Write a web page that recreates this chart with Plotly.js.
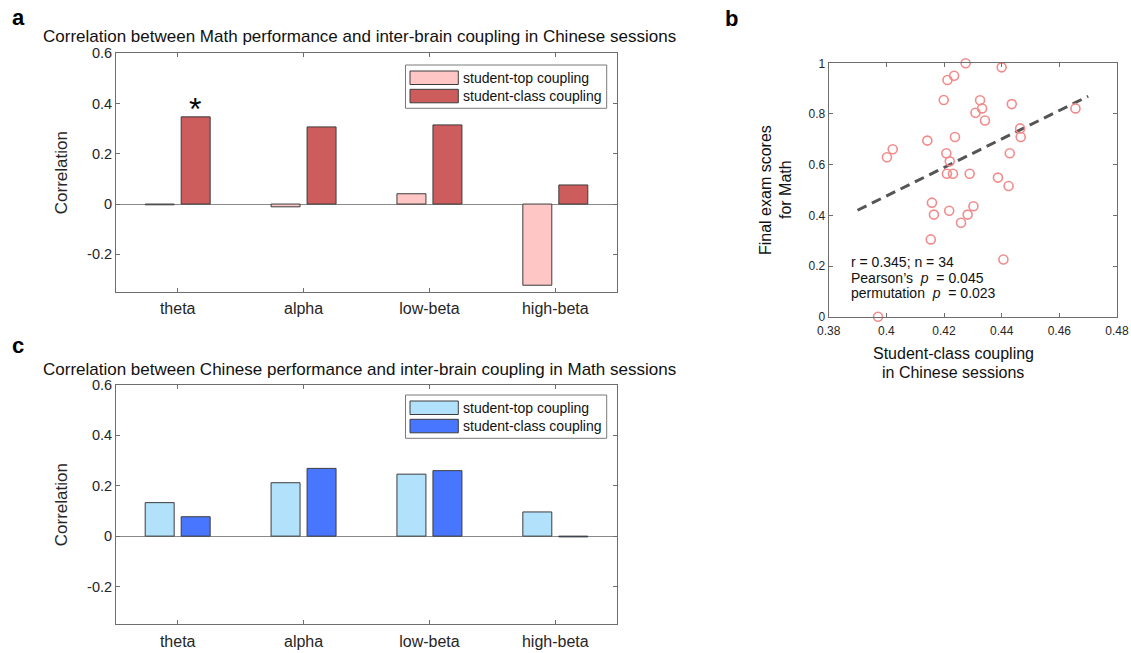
<!DOCTYPE html>
<html><head><meta charset="utf-8">
<script src="https://cdn.plot.ly/plotly-3.0.1.min.js"></script>
<style>html,body{margin:0;padding:0;background:#fff}#chart{width:1131px;height:653px}</style>
</head><body><div id="chart"></div>
<script>
// ---------- data ----------
const bands = ['theta', 'alpha', 'low-beta', 'high-beta'];
const mathTop = [-0.003, -0.011, 0.041, -0.323];
const mathClass = [0.347, 0.307, 0.315, 0.076];
const chnTop = [0.133, 0.212, 0.246, 0.096];
const chnClass = [0.077, 0.269, 0.260, -0.003];
const corrTicks = [-0.2, 0, 0.2, 0.4, 0.6];
const corrTickText = ['-0.2', '0', '0.2', '0.4', '0.6'];
const seriesNames = ['student-top coupling', 'student-class coupling'];

const couplingX = [0.4275, 0.4400, 0.4212, 0.4235, 0.4199, 0.4325, 0.4435, 0.4309, 0.4332, 0.4342,
                   0.4656, 0.4464, 0.4466, 0.4142, 0.4238, 0.4022, 0.4002, 0.4208, 0.4220, 0.4428,
                   0.4210, 0.4231, 0.4289, 0.4387, 0.4424, 0.4158, 0.4165, 0.4218, 0.4282, 0.4302,
                   0.4259, 0.4154, 0.4406, 0.3971];
const examY = [1.000, 0.984, 0.934, 0.951, 0.855, 0.854, 0.839, 0.805, 0.822, 0.774,
               0.822, 0.743, 0.709, 0.695, 0.709, 0.661, 0.629, 0.645, 0.613, 0.645,
               0.564, 0.564, 0.564, 0.549, 0.516, 0.450, 0.403, 0.418, 0.403, 0.436,
               0.371, 0.305, 0.226, 0.000];
const fitX = [0.39, 0.47];
const fitY = [0.42, 0.87];
const scatterXTicks = [0.38, 0.40, 0.42, 0.44, 0.46, 0.48];
const scatterXTickText = ['0.38', '0.4', '0.42', '0.44', '0.46', '0.48'];
const scatterYTicks = [0, 0.2, 0.4, 0.6, 0.8, 1];
const scatterYTickText = ['0', '0.2', '0.4', '0.6', '0.8', '1'];
const statsLines = ['r = 0.345; n = 34', 'Pearson\u2019s  <i>p</i>  = 0.045', 'permutation  <i>p</i>  = 0.023'];
const statsY = [0.217, 0.154, 0.092];

// ---------- style ----------
const W = 1131, H = 653;
const px = x => x / W, py = y => 1 - y / H;
const C = {pink: '#FFC6C6', red: '#CD5C5C', lblue: '#B2E1FB', blue: '#4876FF',
           edge: '#3c3c3c', axis: '#6e6e6e', text: '#262626', pt: '#F28C8C'};
const SANS = '"Liberation Sans", Arial, sans-serif';

function barTrace(x, y, color, xa, ya, name) {
  return {type: 'bar', x: x, y: y, name: name, xaxis: xa, yaxis: ya,
          marker: {color: color, line: {color: C.edge, width: 1}}, hoverinfo: 'x+y'};
}
const data = [
  barTrace(bands, mathTop, C.pink, 'x', 'y', seriesNames[0]),
  barTrace(bands, mathClass, C.red, 'x', 'y', seriesNames[1]),
  barTrace(bands, chnTop, C.lblue, 'x3', 'y3', seriesNames[0]),
  barTrace(bands, chnClass, C.blue, 'x3', 'y3', seriesNames[1]),
  {type: 'scatter', mode: 'lines', x: fitX, y: fitY, xaxis: 'x2', yaxis: 'y2',
   line: {color: '#555555', width: 3, dash: '10px,6px'}, hoverinfo: 'skip'},
  {type: 'scatter', mode: 'markers', x: couplingX, y: examY, xaxis: 'x2', yaxis: 'y2', cliponaxis: false,
   marker: {symbol: 'circle-open', size: 9, color: C.pt, line: {color: C.pt, width: 1.6}}}
];

function catAxis(dom, anchor) {
  return {domain: dom, anchor: anchor, type: 'category', range: [-0.49, 3.49],
          ticks: 'inside', ticklen: 4, tickcolor: C.axis, showline: true, mirror: 'ticks',
          linecolor: C.axis, linewidth: 1, showgrid: false, ticklabelstandoff: 2,
          tickfont: {family: SANS, size: 16, color: C.text}};
}
function corrAxis(dom, anchor) {
  return {domain: dom, anchor: anchor, range: [-0.35, 0.6], tickvals: corrTicks, ticktext: corrTickText,
          ticks: 'inside', ticklen: 4, tickcolor: C.axis, showline: true, mirror: 'ticks',
          linecolor: C.axis, linewidth: 1, showgrid: false, zeroline: true,
          zerolinecolor: '#8a8a8a', zerolinewidth: 1,
          tickfont: {family: SANS, size: 14.5, color: C.text},
          title: {text: 'Correlation', font: {family: SANS, size: 17, color: C.text}, standoff: 15}};
}

const layout = {
  width: W, height: H, margin: {l: 0, r: 0, t: 0, b: 0}, paper_bgcolor: '#fff', plot_bgcolor: '#fff',
  showlegend: false, barmode: 'group', bargap: 0.428, bargroupgap: 0.195,
  font: {family: SANS, color: C.text},
  xaxis: catAxis([px(116), px(617)], 'y'),
  yaxis: corrAxis([py(292), py(53.3)], 'x'),
  xaxis3: catAxis([px(116), px(617)], 'y3'),
  yaxis3: corrAxis([py(624.3), py(385)], 'x3'),
  xaxis2: {domain: [px(828.7), px(1117)], anchor: 'y2', range: [0.38, 0.48], tickvals: scatterXTicks,
           ticktext: scatterXTickText, ticks: 'inside', ticklen: 4, tickcolor: C.axis, ticklabelstandoff: 3,
           showline: true, mirror: 'ticks', linecolor: C.axis, showgrid: false, zeroline: false,
           tickfont: {family: SANS, size: 12, color: C.text}},
  yaxis2: {domain: [py(316.7), py(63.3)], anchor: 'x2', range: [0, 1], tickvals: scatterYTicks,
           ticktext: scatterYTickText, ticks: 'inside', ticklen: 4, tickcolor: C.axis,
           showline: true, mirror: 'ticks', linecolor: C.axis, showgrid: false, zeroline: false,
           tickfont: {family: SANS, size: 12, color: C.text}},
  shapes: [], annotations: []
};

const A = layout.annotations, S = layout.shapes;
function note(text, x, y, opts) {
  A.push(Object.assign({text: text, x: px(x), y: py(y), xref: 'paper', yref: 'paper', showarrow: false,
    xanchor: 'center', yanchor: 'middle', font: {family: SANS, size: 14, color: C.text}}, opts || {}));
}
// panel letters
note('<b>a</b>', 18, 17, {font: {family: SANS, size: 22, color: '#000'}});
note('<b>b</b>', 731, 18, {font: {family: SANS, size: 22, color: '#000'}});
note('<b>c</b>', 18, 345, {font: {family: SANS, size: 22, color: '#000'}});
// panel titles
note('Correlation between Math performance and inter-brain coupling in Chinese sessions', 359, 37,
     {font: {family: SANS, size: 17, color: '#111'}});
note('Correlation between Chinese performance and inter-brain coupling in Math sessions', 359, 369,
     {font: {family: SANS, size: 17, color: '#111'}});
// significance star
A.push({text: '*', x: bands[0], y: 0.38, xref: 'x', yref: 'y', xshift: 17, showarrow: false,
        font: {family: SANS, size: 32, color: '#000'}, yanchor: 'middle'});
// legends
function legend(top, colors) {
  S.push({type: 'rect', xref: 'paper', yref: 'paper', x0: px(405.5), x1: px(606.7), y0: py(top), y1: py(top + 43.3),
          line: {color: '#7a7a7a', width: 1}, fillcolor: '#fff'});
  [0, 1].forEach(i => {
    const t = top + 6 + i * 18.3;
    S.push({type: 'rect', xref: 'paper', yref: 'paper', x0: px(410), x1: px(458.3), y0: py(t), y1: py(t + 13.5),
            line: {color: C.edge, width: 1}, fillcolor: colors[i]});
    note(seriesNames[i], 460.5, t + 6.8, {xanchor: 'left', font: {family: SANS, size: 14, color: '#111'}});
  });
}
legend(65, [C.pink, C.red]);
legend(395, [C.lblue, C.blue]);
// panel b axis titles
note('Final exam scores', 765, 190, {textangle: -90, font: {family: SANS, size: 16, color: '#111'}});
note('for Math', 785, 190, {textangle: -90, font: {family: SANS, size: 16, color: '#111'}});
note('Student-class coupling', 953, 353, {font: {family: SANS, size: 16, color: '#111'}});
note('in Chinese sessions', 953, 372, {font: {family: SANS, size: 16, color: '#111'}});
// stats text in data coords
statsLines.forEach((t, i) => {
  A.push({text: t, x: 0.387, y: statsY[i], xref: 'x2', yref: 'y2', showarrow: false,
          xanchor: 'left', yanchor: 'middle', font: {family: SANS, size: 14, color: '#111'}});
});

Plotly.newPlot('chart', data, layout, {displayModeBar: false, staticPlot: true});
</script>
</body></html>
